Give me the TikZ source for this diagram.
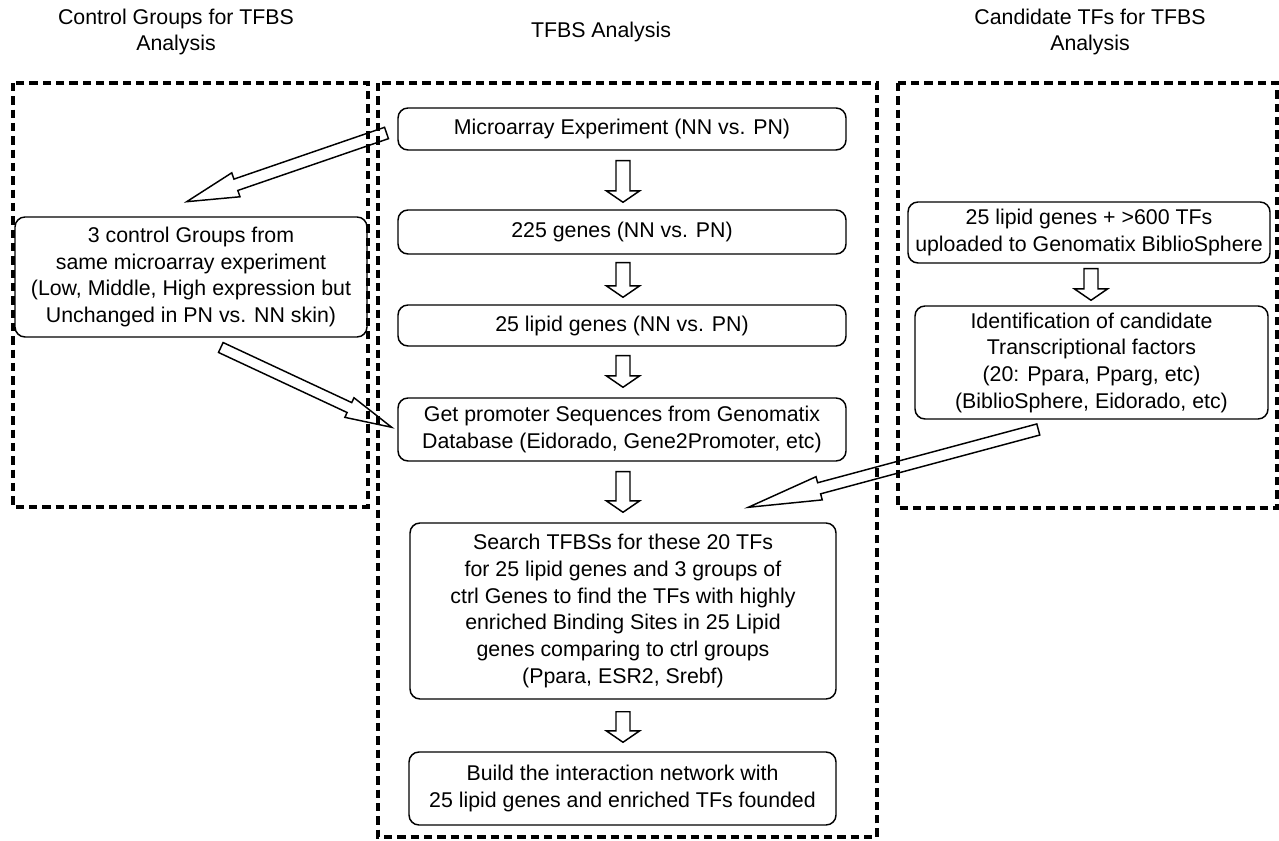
\documentclass[tikz,border=0pt]{standalone}
\usepackage{fontspec}
\setmainfont{Liberation Sans}
\usetikzlibrary{calc}

\tikzset{
  groupframe/.style={draw, line width=2.4pt, dash pattern=on 6.2pt off 3.8pt},
  stepbox/.style={draw, line width=1.1pt, rounded corners=7.5pt, align=center,
    inner sep=0pt, font=\fontsize{16}{20}\selectfont},
  heading/.style={align=center, inner sep=0pt, font=\fontsize{16}{20}\selectfont},
  arrowline/.style={draw, line width=1.1pt, line join=miter},
}

% hollow block arrow: tail, tip, shaft half width, head half width, head length
\newcommand\hollowarrow[5]{%
  \coordinate (hb) at ($(#2)!#5!(#1)$);
  \draw[arrowline] ($(#1)!#3!90:(#2)$) -- ($(hb)!#3!90:(#2)$) -- ($(hb)!#4!90:(#2)$)
    -- (#2) -- ($(hb)!#4!-90:(#2)$) -- ($(hb)!#3!-90:(#2)$) -- ($(#1)!#3!-90:(#2)$) -- cycle;
}
\newcommand\flowdown[2]{\hollowarrow{#1}{#2}{5.25pt}{12.4pt}{8.5pt}}

\begin{document}
\begin{tikzpicture}[x=0.75pt,y=-0.75pt]
\useasboundingbox (0,0) rectangle (1279,841);

% column frames
\draw[groupframe] (13,83) rectangle (368,507);
\draw[groupframe] (378,83) rectangle (877,837);
\draw[groupframe] (898,83) rectangle (1277,508);

% column headings
\node[heading] (hleft) at (176,32) {Control Groups for TFBS\\Analysis};
\node[heading] (hmid) at (601,32) {TFBS Analysis};
\node[heading] (hright) at (1090,32) {Candidate TFs for TFBS\\Analysis};

% main pipeline
\node[stepbox, minimum width=336pt, minimum height=31.5pt] (micro) at (622,129)
  {Microarray Experiment (NN vs. PN)};
\node[stepbox, minimum width=336pt, minimum height=33pt] (g225) at (622,232)
  {225 genes (NN vs. PN)};
\node[stepbox, minimum width=336pt, minimum height=30.75pt] (lipid) at (622,325.5)
  {25 lipid genes (NN vs. PN)};
\node[stepbox, minimum width=336pt, minimum height=47.25pt] (prom) at (622,429.5)
  {Get promoter Sequences from Genomatix\\Database (Eidorado, Gene2Promoter, etc)};
\node[stepbox, minimum width=319.5pt, minimum height=132pt] (search) at (623,611)
  {Search TFBSs for these 20 TFs\\for 25 lipid genes and 3 groups of\\ctrl Genes to find the TFs with highly\\enriched Binding Sites in 25 Lipid\\genes comparing to ctrl groups\\(Ppara, ESR2, Srebf)};
\node[stepbox, minimum width=320.25pt, minimum height=54.75pt] (build) at (622.5,788.5)
  {Build the interaction network with\\25 lipid genes and enriched TFs founded};

% control groups
\node[stepbox, minimum width=264pt, minimum height=90pt] (ctrl) at (191,277)
  {3 control Groups from\\same microarray experiment\\(Low, Middle, High expression but\\Unchanged in PN vs. NN skin)};

% candidate TFs
\node[stepbox, minimum width=271.5pt, minimum height=45.75pt] (upload) at (1089,232.5)
  {25 lipid genes + >600 TFs\\uploaded to Genomatix BiblioSphere};
\node[stepbox, minimum width=264.75pt, minimum height=84.75pt] (ident) at (1091.5,362.5)
  {Identification of candidate\\Transcriptional factors\\(20: Ppara, Pparg, etc)\\(BiblioSphere, Eidorado, etc)};

% vertical flow arrows
\coordinate (d1s) at ($(micro.south)+(1,10)$);  \coordinate (d1e) at ($(g225.north)+(1,-7)$);
\coordinate (d2s) at ($(g225.south)+(1,8)$);    \coordinate (d2e) at ($(lipid.north)+(1,-7)$);
\coordinate (d3s) at ($(lipid.south)+(1,9)$);   \coordinate (d3e) at ($(prom.north)+(1,-10)$);
\coordinate (d4s) at ($(prom.south)+(1,10)$);   \coordinate (d4e) at ($(search.north)+(0,-10)$);
\coordinate (d5s) at ($(search.south)+(0,12)$); \coordinate (d5e) at ($(build.north)+(0.5,-9)$);
\coordinate (d6s) at ($(upload.south)+(2,5)$);  \coordinate (d6e) at ($(ident.north)+(-0.5,-5)$);
\flowdown{d1s}{d1e}
\flowdown{d2s}{d2e}
\flowdown{d3s}{d3e}
\flowdown{d4s}{d4e}
\flowdown{d5s}{d5e}
\flowdown{d6s}{d6e}

% cross-column arrows
\coordinate (a1s) at (386.5,133);  \coordinate (a1e) at (186.7,201.7);
\coordinate (a2s) at (220.8,347.5); \coordinate (a2e) at (391.7,427.3);
\coordinate (a3s) at (1038.3,429.5); \coordinate (a3e) at (748.3,507.3);
\hollowarrow{a1s}{a1e}{4.5pt}{9.5pt}{39pt}
\hollowarrow{a2s}{a2e}{4.1pt}{8.1pt}{35pt}
\hollowarrow{a3s}{a3e}{4.3pt}{9pt}{55pt}
\end{tikzpicture}
\end{document}
